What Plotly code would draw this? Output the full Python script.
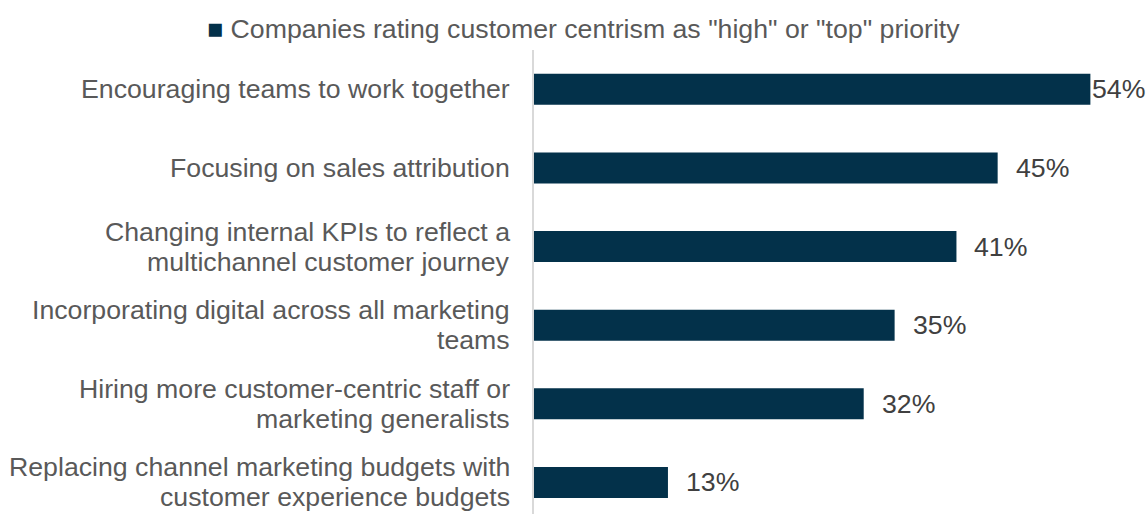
import plotly.graph_objects as go

# Data
categories = [
    "Encouraging teams to work together",
    "Focusing on sales attribution",
    "Changing internal KPIs to reflect a\nmultichannel customer journey",
    "Incorporating digital across all marketing\nteams",
    "Hiring more customer-centric staff or\nmarketing generalists",
    "Replacing channel marketing budgets with\ncustomer experience budgets",
]
values = [54, 45, 41, 35, 32, 13]
value_labels = [f"{v}%" for v in values]
series_name = 'Companies rating customer centrism as "high" or "top" priority'

BAR_COLOR = "#03314A"
LABEL_COLOR = "#595959"
VALUE_COLOR = "#404040"
FONT = "Liberation Sans, Arial, sans-serif"
FONT_SIZE = 26.7
LINE_SPACING = 30

W, H = 1147, 514
M_L, M_R, M_T, M_B = 534, 2, 50, 0
X_MAX = 59.3

positions = list(range(len(categories)))

fig = go.Figure()
fig.add_trace(go.Bar(
    x=values,
    y=positions,
    orientation="h",
    width=0.395,
    marker=dict(color=BAR_COLOR, line=dict(width=0)),
    name=series_name,
    showlegend=False,
    hoverinfo="skip",
))

annotations = []

# Series key above the plot: coloured square followed by the series name
annotations.append(dict(
    x=0, xref="paper", y=1, yref="paper",
    text=f'<span style="color:{BAR_COLOR}">■</span> {series_name}',
    showarrow=False,
    xanchor="center", yanchor="middle",
    xshift=49.5, yshift=21,
    font=dict(family=FONT, size=FONT_SIZE, color=LABEL_COLOR),
))

# Category labels, one annotation per line for tight line spacing
for pos, cat in zip(positions, categories):
    lines = cat.split("\n")
    n = len(lines)
    for i, line in enumerate(lines):
        annotations.append(dict(
            x=0, xref="paper", y=pos, yref="y",
            text=line, showarrow=False,
            xanchor="right", yanchor="middle",
            xshift=-22,
            yshift=((n - 1) / 2 - i) * LINE_SPACING,
            font=dict(family=FONT, size=FONT_SIZE, color=LABEL_COLOR),
        ))

# Value labels, kept inside the figure when space runs out
plot_w = W - M_L - M_R
px_per_unit = plot_w / X_MAX
char_w = {"%": 0.889}
for pos, v, lab in zip(positions, values, value_labels):
    text_w = sum(char_w.get(c, 0.556) for c in lab) * FONT_SIZE
    end_px = v * px_per_unit
    shift = 16 if end_px + 16 + text_w <= plot_w else 0
    annotations.append(dict(
        x=v, xref="x", y=pos, yref="y",
        text=lab, showarrow=False,
        xanchor="left", yanchor="middle",
        xshift=shift,
        font=dict(family=FONT, size=FONT_SIZE, color=VALUE_COLOR),
    ))

fig.update_layout(
    width=W, height=H,
    margin=dict(l=M_L, r=M_R, t=M_T, b=M_B, pad=0),
    paper_bgcolor="white",
    plot_bgcolor="white",
    font=dict(family=FONT, size=FONT_SIZE, color=LABEL_COLOR),
    showlegend=False,
    xaxis=dict(range=[0, X_MAX], visible=False, fixedrange=True),
    yaxis=dict(
        range=[5.401, -0.5],
        showticklabels=False,
        ticks="",
        showgrid=False,
        zeroline=False,
        showline=True,
        linecolor="#D9D9D9",
        linewidth=1.5,
        fixedrange=True,
    ),
    annotations=annotations,
)

fig.write_html("out.html")
